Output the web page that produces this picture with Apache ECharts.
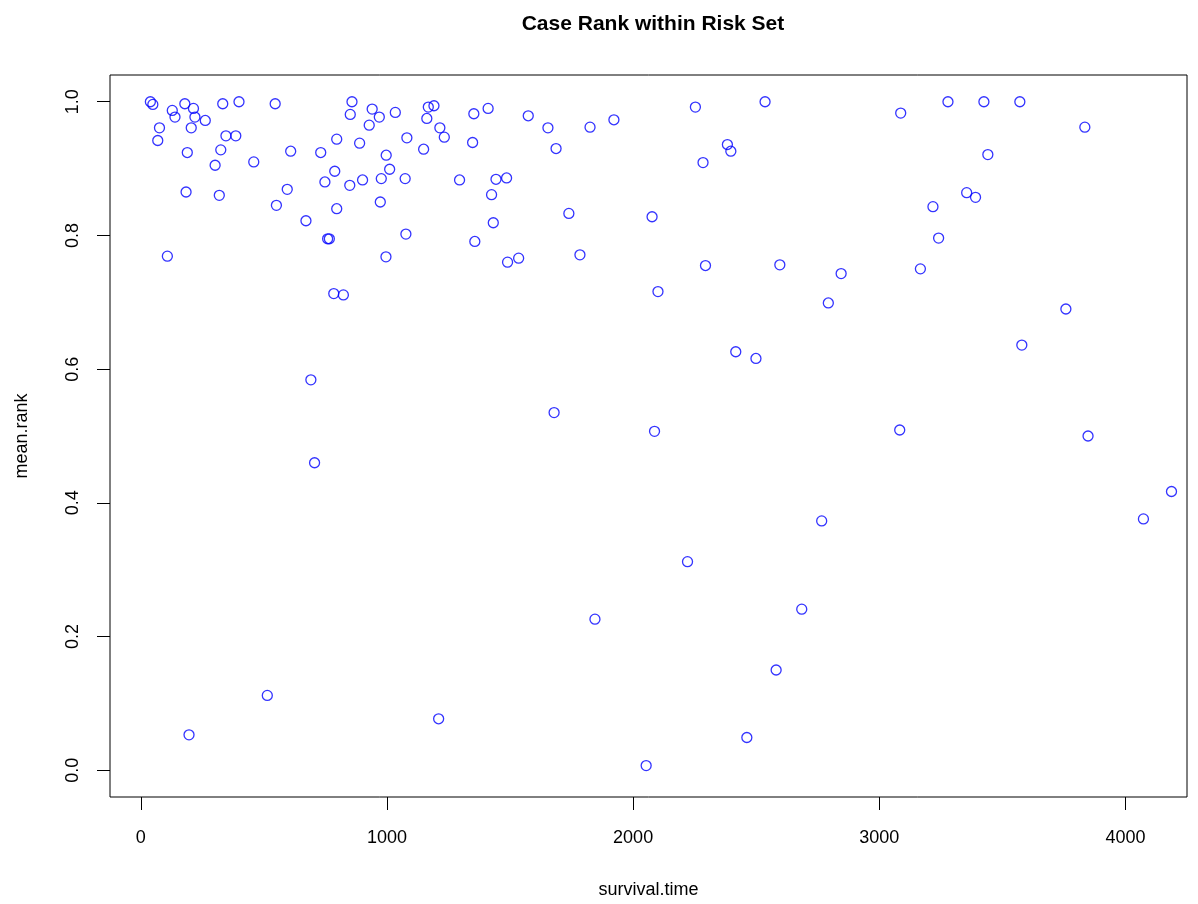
<!DOCTYPE html>
<html lang="en">
<head>
    <meta charset="UTF-8">
    <script src="https://cdn.jsdelivr.net/npm/echarts@6/dist/echarts.min.js"></script>
    <title>Case Rank within Risk Set</title>
    <style>
        html, body { margin: 0; padding: 0; background: #fff; }
        #main { width: 1198px; height: 904px; }
    </style>
</head>
<body>
<div id="main"></div>
<script>
    // survival.time (x) and mean.rank (y) for each case
    var survivalTime = [
        39, 49, 76, 69, 108, 128, 139, 179, 184, 189,
        196, 205, 214, 220, 262, 302, 319, 325, 333, 346,
        386, 399, 459, 514, 551, 546, 595, 609, 671, 691,
        706, 731, 748, 759, 766, 784, 788, 796, 796, 823,
        851, 849, 858, 889, 901, 928, 940, 969, 973, 977,
        996, 997, 1011, 1034, 1074, 1077, 1081, 1149, 1162, 1168,
        1191, 1210, 1215, 1233, 1295, 1348, 1353, 1357, 1411, 1425,
        1432, 1443, 1486, 1490, 1535, 1574, 1654, 1679, 1687, 1739,
        1784, 1825, 1845, 1922, 2053, 2077, 2087, 2101, 2221, 2253,
        2284, 2294, 2383, 2397, 2417, 2462, 2499, 2536, 2581, 2596,
        2685, 2766, 2793, 2845, 3087, 3083, 3167, 3218, 3241, 3279,
        3355, 3391, 3425, 3441, 3571, 3579, 3758, 3835, 3848, 4073,
        4187
    ];
    var meanRank = [
        1.000, 0.996, 0.961, 0.942, 0.769, 0.987, 0.977, 0.997, 0.865, 0.924,
        0.053, 0.961, 0.990, 0.977, 0.972, 0.905, 0.860, 0.928, 0.997, 0.949,
        0.949, 1.000, 0.910, 0.112, 0.845, 0.997, 0.869, 0.926, 0.822, 0.584,
        0.460, 0.924, 0.880, 0.795, 0.795, 0.713, 0.896, 0.840, 0.944, 0.711,
        0.981, 0.875, 1.000, 0.938, 0.883, 0.965, 0.989, 0.977, 0.850, 0.885,
        0.768, 0.920, 0.899, 0.984, 0.885, 0.802, 0.946, 0.929, 0.975, 0.992,
        0.994, 0.077, 0.961, 0.947, 0.883, 0.939, 0.982, 0.791, 0.990, 0.861,
        0.819, 0.884, 0.886, 0.760, 0.766, 0.979, 0.961, 0.535, 0.930, 0.833,
        0.771, 0.962, 0.226, 0.973, 0.007, 0.828, 0.507, 0.716, 0.312, 0.992,
        0.909, 0.755, 0.936, 0.926, 0.626, 0.049, 0.616, 1.000, 0.150, 0.756,
        0.241, 0.373, 0.699, 0.743, 0.983, 0.509, 0.750, 0.843, 0.796, 1.000,
        0.864, 0.857, 1.000, 0.921, 1.000, 0.636, 0.690, 0.962, 0.500, 0.376,
        0.417
    ];
    var xTicks = [0, 1000, 2000, 3000, 4000];
    var yTicks = [0, 0.2, 0.4, 0.6, 0.8, 1.0];

    var points = survivalTime.map(function (t, i) { return [t, meanRank[i]]; });

    var font = "'Liberation Sans', Arial, Helvetica, sans-serif";
    var chart = echarts.init(document.getElementById('main'), null, {renderer: 'canvas'});

    var option = {
        animation: false,
        backgroundColor: '#ffffff',
        title: {
            text: 'Case Rank within Risk Set',
            left: 648,
            textAlign: 'center',
            top: 9,
            textStyle: {fontFamily: font, fontWeight: 'bold', fontSize: 21, color: '#000'}
        },
        grid: {
            left: 110, right: 11, top: 75, bottom: 104,
            show: true, borderColor: '#000', borderWidth: 1, backgroundColor: 'transparent'
        },
        xAxis: {
            type: 'value',
            min: -125,
            max: 4250,
            name: 'survival.time',
            nameLocation: 'middle',
            nameGap: 84,
            nameTextStyle: {fontFamily: font, fontSize: 18, color: '#000'},
            axisLine: {show: false, onZero: false},
            splitLine: {show: false},
            axisTick: {show: true, customValues: xTicks, length: 13, lineStyle: {color: '#000', width: 1}},
            axisLabel: {
                customValues: xTicks, margin: 32, fontFamily: font, fontSize: 18, color: '#000',
                formatter: function (v) { return String(v); }
            }
        },
        yAxis: {
            type: 'value',
            min: -0.04,
            max: 1.04,
            name: 'mean.rank',
            nameLocation: 'middle',
            nameRotate: 90,
            nameGap: 79,
            nameTextStyle: {fontFamily: font, fontSize: 18, color: '#000'},
            axisLine: {show: false, onZero: false},
            splitLine: {show: false},
            axisTick: {show: true, customValues: yTicks, length: 13, lineStyle: {color: '#000', width: 1}},
            axisLabel: {
                customValues: yTicks,
                rotate: 90,
                margin: 28,
                fontFamily: font, fontSize: 18, color: '#000',
                formatter: function (v) { return v.toFixed(1); }
            }
        },
        series: [{
            type: 'scatter',
            data: points,
            symbol: 'circle',
            symbolSize: 10,
            itemStyle: {color: 'rgba(0,0,0,0)', borderColor: '#0000ff', borderWidth: 1.3}
        }]
    };
    chart.setOption(option);
</script>
</body>
</html>
